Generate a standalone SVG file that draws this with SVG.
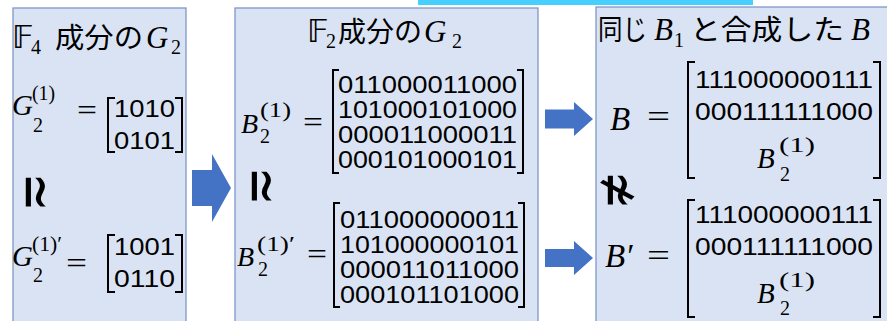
<svg xmlns="http://www.w3.org/2000/svg" width="887" height="321" viewBox="0 0 887 321">
<style>
.box{fill:#DAE3F3;stroke:#7F98C8;stroke-width:1.3}
.arr{fill:#4472C4}
.br{fill:none;stroke:#000;stroke-width:2}
text{fill:#000}
.m{font-family:"Liberation Serif","DejaVu Serif",serif;font-style:italic}
.r{font-family:"Liberation Serif","DejaVu Serif",serif}
.d{font-family:"Liberation Sans",Arial,sans-serif;font-size:24px}
.j{font-family:"Noto Sans CJK JP","Noto Sans",sans-serif;font-size:28px}
.f{font-family:"DejaVu Sans","DejaVu Serif",sans-serif;font-size:32px}
.sym{font-family:"DejaVu Sans",sans-serif;font-size:46px}
</style>
<rect x="418" y="0" width="335" height="5" fill="#47CFFF"/>

<g id="box1">
<rect class="box" x="13" y="8" width="173" height="320"/>
<text y="48"><tspan class="f" x="12">𝔽</tspan><tspan class="r" x="31" dy="6" font-size="20">4</tspan></text>
<text class="j" x="55" y="48" textLength="88" lengthAdjust="spacingAndGlyphs">成分の</text>
<text class="m" x="146" y="48" font-size="31">G</text>
<text class="r" x="171" y="54" font-size="20">2</text>

<text class="m" x="12" y="115" font-size="29">G</text>
<text class="r" x="32" y="100" font-size="22" textLength="23" lengthAdjust="spacingAndGlyphs">(1)</text>
<text class="r" x="33" y="132" font-size="20">2</text>
<text class="r" x="77" y="120" font-size="30" textLength="20" lengthAdjust="spacingAndGlyphs">=</text>
<path class="br" d="M115,98 H108 V152 H115 M175,98 H182 V152 H175"/>
<text class="d" x="114" y="117" textLength="61" lengthAdjust="spacingAndGlyphs">1010</text>
<text class="d" x="114" y="149" textLength="61" lengthAdjust="spacingAndGlyphs">0101</text>

<text class="sym" transform="translate(37,192) rotate(90) scale(1,1.35)" text-anchor="middle" dominant-baseline="central">≃</text>

<text class="m" x="12" y="266" font-size="29">G</text>
<text class="r" x="32" y="251" font-size="22" textLength="30" lengthAdjust="spacingAndGlyphs">(1)′</text>
<text class="r" x="33" y="282" font-size="20">2</text>
<text class="r" x="66" y="273" font-size="30" textLength="21" lengthAdjust="spacingAndGlyphs">=</text>
<path class="br" d="M115,235 H108 V292 H115 M175,235 H182 V292 H175"/>
<text class="d" x="114" y="255" textLength="61" lengthAdjust="spacingAndGlyphs">1001</text>
<text class="d" x="114" y="287" textLength="61" lengthAdjust="spacingAndGlyphs">0110</text>
</g>

<g id="box2">
<rect class="box" x="235" y="8" width="303" height="320"/>
<text y="42"><tspan class="f" x="307">𝔽</tspan><tspan class="r" x="326" dy="6" font-size="20">2</tspan></text>
<text class="j" x="338" y="42" textLength="84" lengthAdjust="spacingAndGlyphs">成分の</text>
<text class="m" x="424" y="42" font-size="31">G</text>
<text class="r" x="452" y="48" font-size="20">2</text>

<text class="m" x="241" y="133" font-size="28">B</text>
<text class="r" x="260" y="117" font-size="22" textLength="31" lengthAdjust="spacingAndGlyphs">(1)</text>
<text class="r" x="260" y="143" font-size="20">2</text>
<text class="r" x="303" y="132" font-size="30" textLength="20" lengthAdjust="spacingAndGlyphs">=</text>
<path class="br" d="M339,70 H333 V173 H339 M517,70 H523 V173 H517"/>
<text class="d" x="338" y="93" textLength="179" lengthAdjust="spacingAndGlyphs">011000011000</text>
<text class="d" x="338" y="118" textLength="179" lengthAdjust="spacingAndGlyphs">101000101000</text>
<text class="d" x="338" y="143" textLength="179" lengthAdjust="spacingAndGlyphs">000011000011</text>
<text class="d" x="338" y="168" textLength="179" lengthAdjust="spacingAndGlyphs">000101000101</text>

<text class="sym" transform="translate(263,186) rotate(90) scale(1,1.35)" text-anchor="middle" dominant-baseline="central">≃</text>

<text class="m" x="237" y="266" font-size="28">B</text>
<text class="r" x="257" y="251" font-size="22" textLength="38" lengthAdjust="spacingAndGlyphs">(1)′</text>
<text class="r" x="258" y="276" font-size="20">2</text>
<text class="r" x="307" y="264" font-size="30" textLength="20" lengthAdjust="spacingAndGlyphs">=</text>
<path class="br" d="M340,203 H334 V307 H340 M518,203 H524 V307 H518"/>
<text class="d" x="340" y="228" textLength="179" lengthAdjust="spacingAndGlyphs">011000000011</text>
<text class="d" x="340" y="253" textLength="179" lengthAdjust="spacingAndGlyphs">101000000101</text>
<text class="d" x="340" y="278" textLength="179" lengthAdjust="spacingAndGlyphs">000011011000</text>
<text class="d" x="340" y="303" textLength="179" lengthAdjust="spacingAndGlyphs">000101101000</text>
</g>

<g id="box3">
<rect class="box" x="596" y="7" width="300" height="320"/>
<text class="j" x="598" y="40" textLength="49" lengthAdjust="spacingAndGlyphs">同じ</text>
<text class="m" x="654" y="40" font-size="31">B</text>
<text class="r" x="674" y="47" font-size="20">1</text>
<text class="j" x="690" y="40" textLength="154" lengthAdjust="spacingAndGlyphs">と合成した</text>
<text class="m" x="851" y="40" font-size="31">B</text>

<text class="m" x="610" y="130" font-size="33">B</text>
<text class="r" x="647" y="127" font-size="32" textLength="23" lengthAdjust="spacingAndGlyphs">=</text>
<path class="br" d="M695,62 H688 V178 H695 M873,62 H880 V178 H873"/>
<text class="d" x="695" y="88" textLength="178" lengthAdjust="spacingAndGlyphs">111000000111</text>
<text class="d" x="695" y="120" textLength="178" lengthAdjust="spacingAndGlyphs">000111111000</text>
<text class="m" x="757" y="168" font-size="29">B</text>
<text class="r" x="779" y="152" font-size="22" textLength="36" lengthAdjust="spacingAndGlyphs">(1)</text>
<text class="r" x="780" y="181" font-size="20">2</text>

<text class="sym" transform="translate(619,190) rotate(90) scale(1,1.35)" text-anchor="middle" dominant-baseline="central">≄</text>

<text class="m" x="605" y="267" font-size="33">B′</text>
<text class="r" x="647" y="266" font-size="32" textLength="23" lengthAdjust="spacingAndGlyphs">=</text>
<path class="br" d="M695,200 H688 V317 H695 M873,200 H880 V317 H873"/>
<text class="d" x="695" y="223" textLength="178" lengthAdjust="spacingAndGlyphs">111000000111</text>
<text class="d" x="695" y="255" textLength="178" lengthAdjust="spacingAndGlyphs">000111111000</text>
<text class="m" x="757" y="303" font-size="29">B</text>
<text class="r" x="779" y="287" font-size="22" textLength="36" lengthAdjust="spacingAndGlyphs">(1)</text>
<text class="r" x="780" y="315" font-size="20">2</text>
</g>

<g id="connectors">
<polygon class="arr" points="192,170 212,170 212,154 231,188 212,222 212,206 192,206"/>
<polygon class="arr" points="545,109.5 574,109.5 574,102 593,119 574,136 574,128.5 545,128.5"/>
<polygon class="arr" points="545,249 574,249 574,241 593,258 574,275 574,267 545,267"/>
</g>
</svg>
